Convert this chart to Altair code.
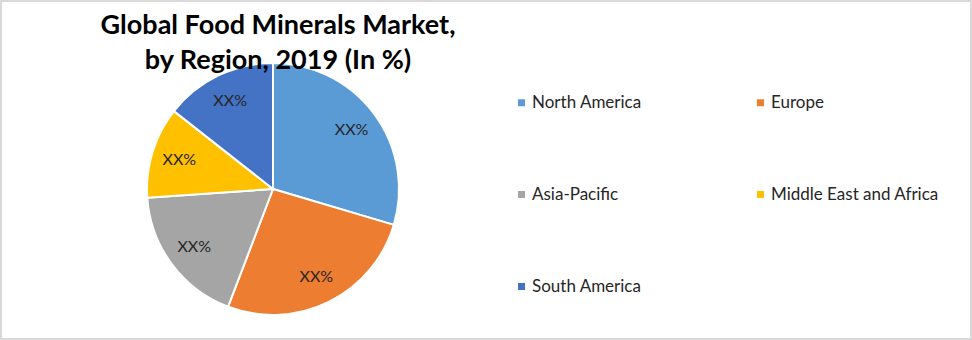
import altair as alt
import pandas as pd

regions = ["North America", "Europe", "Asia-Pacific", "Middle East and Africa", "South America"]
shares = [29.6, 26.2, 18.1, 11.7, 14.4]
labels = ["XX%", "XX%", "XX%", "XX%", "XX%"]
colors = ["#5B9BD5", "#ED7D31", "#A5A5A5", "#FFC000", "#4472C4"]

df = pd.DataFrame({
    "region": regions,
    "share": shares,
    "label": labels,
    "idx": list(range(len(regions))),
})

CX, CY, R = 272, 188, 126

base = alt.Chart(df).encode(
    theta=alt.Theta("share:Q", stack=True),
    order=alt.Order("idx:Q"),
)

arcs = base.mark_arc(outerRadius=R, stroke="white", strokeWidth=2, x=CX, y=CY).encode(
    color=alt.Color(
        "region:N",
        scale=alt.Scale(domain=regions, range=colors),
        sort=regions,
        legend=alt.Legend(
            title=None,
            orient="none",
            direction="horizontal",
            legendX=512,
            legendY=93,
            columns=2,
            symbolType="square",
            symbolSize=49,
            symbolStrokeWidth=0,
            labelFont="Lato",
            labelFontSize=17,
            labelColor="#262626",
            labelOffset=2,
            rowPadding=74,
            columnPadding=110,
            padding=0,
            labelLimit=300,
        ),
    )
)

texts = base.mark_text(radius=98, font="Lato", fontSize=16, color="#262626", x=CX, y=CY).encode(
    text="label:N"
)

chart = (
    alt.layer(arcs, texts)
    .properties(
        width=970,
        height=338,
        padding={"left": 1, "top": 1, "right": 1, "bottom": 1},
        autosize=alt.AutoSizeParams(type="none"),
        view=alt.ViewBackground(stroke="#D9D9D9", strokeWidth=2, fill="white"),
        title=alt.TitleParams(
            text=["Global Food Minerals Market,", "by Region, 2019 (In %)"],
            font="Lato",
            fontSize=27,
            fontWeight="bold",
            color="#000000",
            anchor="middle",
            dx=-208,
            offset=-74,
            lineHeight=35,
        ),
    )
    .configure(background="white")
)

chart.save("out.html", embed_options={"renderer": "svg", "actions": False})
